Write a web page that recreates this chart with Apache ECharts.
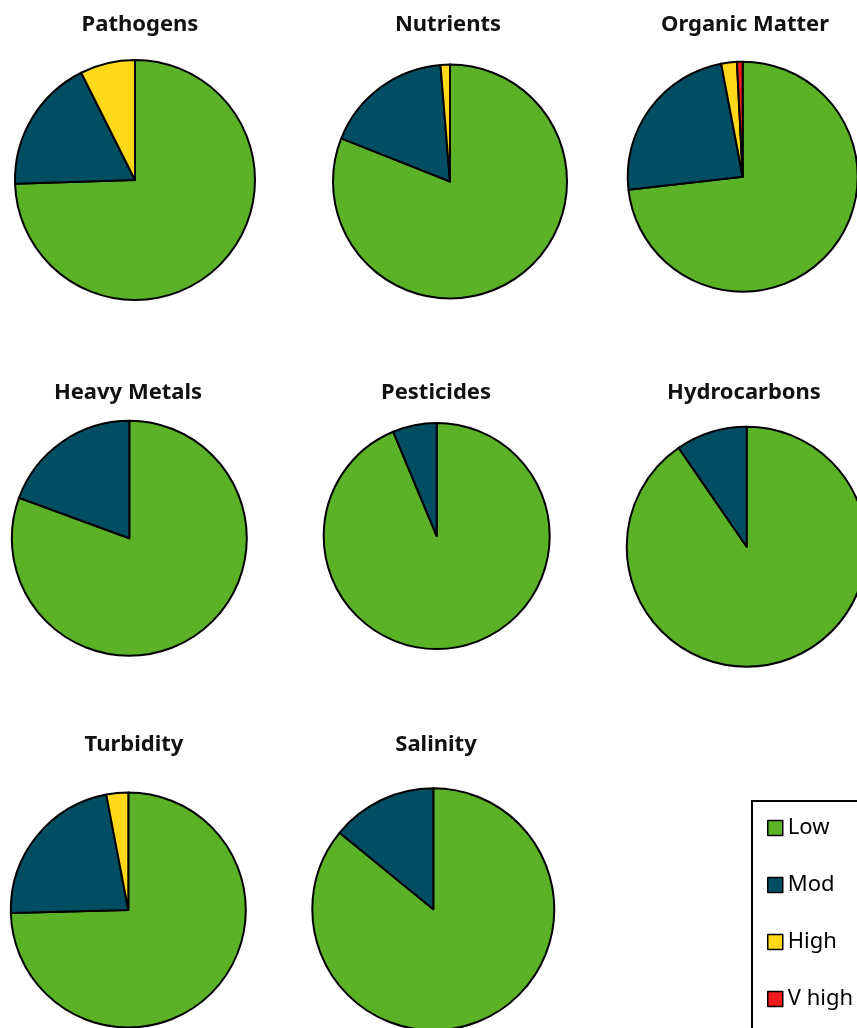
<!DOCTYPE html>
<html>
<head>
<meta charset="utf-8">
<script src="https://cdn.jsdelivr.net/npm/echarts@6/dist/echarts.min.js"></script>
<style>
html,body{margin:0;padding:0;background:#fff;}
#chart{width:857px;height:1028px;}
</style>
</head>
<body>
<div id="chart"></div>
<script>
// ---- data ----
const categories = ['Low', 'Mod', 'High', 'V high'];
const titles = ['Pathogens', 'Nutrients', 'Organic Matter', 'Heavy Metals', 'Pesticides', 'Hydrocarbons', 'Turbidity', 'Salinity'];
const pathogens    = [74.5, 18.1, 7.4, 0];
const nutrients    = [81.0, 17.7, 1.3, 0];
const organicMatter= [73.2, 23.8, 2.2, 0.8];
const heavyMetals  = [80.6, 19.4, 0, 0];
const pesticides   = [93.7, 6.3, 0, 0];
const hydrocarbons = [90.4, 9.6, 0, 0];
const turbidity    = [74.6, 22.4, 3.0, 0];
const salinity     = [85.9, 14.1, 0, 0];
const seriesValues = [pathogens, nutrients, organicMatter, heavyMetals, pesticides, hydrocarbons, turbidity, salinity];

// ---- layout & style ----
const colors = ['#5BB227', '#014E62', '#FFD817', '#F21B1B'];
const pieLayout = [
  {cx: 135, cy: 180, r: 120, tx: 140, ty: 26},
  {cx: 450, cy: 181.5, r: 117, tx: 448, ty: 26},
  {cx: 742.7, cy: 176.7, r: 115, tx: 745, ty: 26},
  {cx: 129.3, cy: 538.3, r: 117.5, tx: 128, ty: 394},
  {cx: 436.7, cy: 536, r: 113, tx: 436, ty: 394},
  {cx: 746.7, cy: 546.7, r: 120, tx: 744, ty: 394},
  {cx: 128.3, cy: 910, r: 117.5, tx: 134, ty: 746},
  {cx: 433.3, cy: 909.3, r: 121, tx: 436, ty: 746}
];
const titleFont = 22;

const chart = echarts.init(document.getElementById('chart'), null, {renderer: 'canvas'});

const title = titles.map((t, i) => ({
  text: t,
  left: pieLayout[i].tx,
  top: pieLayout[i].ty - titleFont / 2 - 1,
  textAlign: 'center',
  padding: 0,
  textStyle: {fontFamily: 'Noto Sans', fontWeight: 'bold', fontSize: titleFont, color: '#111', lineHeight: titleFont}
}));

const series = seriesValues.map((vals, i) => ({
  type: 'pie',
  name: titles[i],
  center: [pieLayout[i].cx, pieLayout[i].cy],
  radius: [0, pieLayout[i].r],
  startAngle: 90,
  clockwise: true,
  silent: true,
  animation: false,
  label: {show: false},
  labelLine: {show: false},
  itemStyle: {borderColor: '#000', borderWidth: 2},
  emphasis: {disabled: true},
  data: categories.map((c, k) => ({name: c, value: vals[k], itemStyle: {color: colors[k]}}))
                  .filter(d => d.value > 0)
}));

chart.setOption({
  backgroundColor: '#fff',
  animation: false,
  title: title,
  legend: {
    data: categories,
    orient: 'vertical',
    left: 767,
    top: 817,
    padding: 0,
    itemWidth: 15,
    itemHeight: 15,
    itemGap: 35,
    selectedMode: false,
    icon: 'rect',
    itemStyle: {borderColor: '#000', borderWidth: 1.5},
    textStyle: {fontFamily: 'Noto Sans', fontSize: 22, color: '#000', lineHeight: 22}
  },
  graphic: [{
    type: 'rect',
    shape: {x: 752, y: 801, width: 200, height: 300},
    style: {fill: '#fff', stroke: '#000', lineWidth: 2},
    z: -10
  }],
  series: series
});
</script>
</body>
</html>
